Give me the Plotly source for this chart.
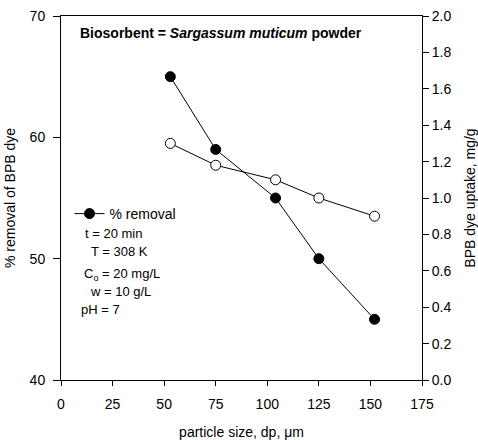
import plotly.graph_objects as go

particle_size = [53, 75, 104, 125, 152]
removal_pct = [65, 59, 55, 50, 45]
uptake = [1.3, 1.18, 1.1, 1.0, 0.9]

FONT = "Arial, Liberation Sans, sans-serif"

fig = go.Figure()
fig.add_trace(go.Scatter(
    x=particle_size, y=removal_pct, mode="lines+markers", name="% removal",
    line=dict(color="black", width=1),
    marker=dict(symbol="circle", size=10, color="black", line=dict(color="black", width=1)),
    showlegend=True,
))
fig.add_trace(go.Scatter(
    x=particle_size, y=uptake, mode="lines+markers", name="uptake", yaxis="y2",
    line=dict(color="black", width=1),
    marker=dict(symbol="circle", size=10, color="white", line=dict(color="black", width=1)),
    showlegend=False,
))

axis_common = dict(showline=True, linecolor="black", linewidth=1, ticks="outside",
                   tickcolor="black", tickwidth=1, showgrid=False, zeroline=False,
                   automargin=False,
                   tickfont=dict(family=FONT, size=14, color="black"))

fig.update_layout(
    width=478, height=440,
    margin=dict(l=61, r=56, t=16, b=60),
    paper_bgcolor="white", plot_bgcolor="white",
    font=dict(family=FONT, size=14, color="black"),
    xaxis=dict(range=[0, 175], dtick=25, tick0=0, ticklen=5, mirror=True,
               title=dict(text="particle size, dp, μm", font=dict(size=14), standoff=18),
               ticklabelstandoff=6,
               **axis_common),
    yaxis=dict(range=[40, 70], dtick=10, ticklen=7, ticklabelstandoff=5,
               title=dict(text="% removal of BPB dye", font=dict(size=14), standoff=10),
               **axis_common),
    yaxis2=dict(range=[0, 2], dtick=0.2, tickformat=".1f", ticklen=6, overlaying="y", side="right",
                title=dict(text="BPB dye uptake, mg/g", font=dict(size=14), standoff=14),
                **axis_common),
    legend=dict(x=(70 - 61.5) / 361, y=(380 - 214) / 364, xanchor="left", yanchor="middle",
                bgcolor="rgba(0,0,0,0)", font=dict(size=14), itemwidth=30,
                tracegroupgap=0),
    showlegend=True,
)

def px_x(p):
    return (p - 61.5) / 361

def px_y(p):
    return (380 - p) / 364

fig.add_annotation(x=px_x(221), y=px_y(33), xref="paper", yref="paper", showarrow=False,
                   text="<b>Biosorbent = <i>Sargassum muticum</i> powder</b>",
                   font=dict(size=14), xanchor="center", yanchor="middle")

notes = [
    ("t = 20 min", 83, 233),
    ("T = 308 K", 89, 252),
    ("C<sub>o</sub> = 20 mg/L", 82, 274),
    ("w = 10 g/L", 88, 291),
    ("pH = 7", 79, 309),
]
for txt, px, py in notes:
    fig.add_annotation(x=px_x(px), y=px_y(py), xref="paper", yref="paper", showarrow=False,
                       text=txt, font=dict(size=13), xanchor="left", yanchor="middle")

fig.write_html("out.html")
